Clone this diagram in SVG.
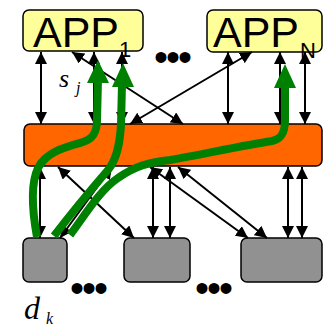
<svg xmlns="http://www.w3.org/2000/svg" width="323" height="326" viewBox="0 0 323 326">
<style>
.app{fill:#FFFF99;stroke:#000;stroke-width:1.5}
.bus{fill:#FF6600;stroke:#000;stroke-width:1.5}
.dev{fill:#919191;stroke:#000;stroke-width:1.5}
.big{font-family:"Liberation Sans",Arial,sans-serif;font-size:43px;fill:#000}
.sub{font-family:"Liberation Sans",Arial,sans-serif;font-size:22px;fill:#000}
.dots{font-family:"Liberation Sans",Arial,sans-serif;font-size:40px;letter-spacing:-2px;fill:#000}
.it{font-family:"Liberation Serif","Times New Roman",serif;font-style:italic;fill:#000}
.ar{stroke:#000;stroke-width:2;fill:none;marker-start:url(#ah);marker-end:url(#ah)}
.gp{stroke:#008000;stroke-width:8;fill:none;stroke-linejoin:round}
.gh{fill:#008000}
</style>
<defs>
<marker id="ah" viewBox="0 0 10 10" refX="10" refY="5" markerWidth="12" markerHeight="12" markerUnits="userSpaceOnUse" orient="auto-start-reverse">
<path d="M0,0 L10,5 L0,10 z" fill="#000"/>
</marker>
</defs>
<g id="app1">
<rect class="app" x="23" y="10" width="120" height="41" rx="6"/>
<text class="big" x="33" y="47">APP</text>
<text class="sub" x="119" y="57">1</text>
</g>
<g id="appN">
<rect class="app" x="207" y="10" width="115" height="42" rx="6"/>
<text class="big" x="213" y="47">APP</text>
<text class="sub" x="300" y="58">N</text>
</g>
<text id="dots-top" class="dots" x="154" y="71">•••</text>
<g id="bus">
<rect class="bus" x="24" y="124" width="298" height="42" rx="6"/>
</g>
<g id="dev1"><rect class="dev" x="23" y="238" width="44" height="44" rx="6"/></g>
<g id="dev2"><rect class="dev" x="124" y="238" width="66" height="44" rx="6"/></g>
<g id="dev3"><rect class="dev" x="241" y="238" width="81" height="44" rx="6"/></g>
<text id="dots-b1" class="dots" x="70" y="302">•••</text>
<text id="dots-b2" class="dots" x="195" y="302">•••</text>
<text id="sj" class="it" x="59" y="87" font-size="26">s<tspan x="76" y="93" font-size="16">j</tspan></text>
<text id="dk" class="it" x="24" y="319" font-size="32">d<tspan x="46" y="324" font-size="16">k</tspan></text>
<g id="connectors">
<line class="ar" x1="41" y1="52" x2="41" y2="124"/>
<line class="ar" x1="72" y1="52" x2="183" y2="124"/>
<line class="ar" x1="94" y1="52" x2="94" y2="124"/>
<line class="ar" x1="122" y1="52" x2="122" y2="124"/>
<line class="ar" x1="252" y1="52" x2="130" y2="124"/>
<line class="ar" x1="228" y1="52" x2="228" y2="124"/>
<line class="ar" x1="280" y1="52" x2="280" y2="124"/>
<line class="ar" x1="305" y1="52" x2="305" y2="124"/>
<line class="ar" x1="40" y1="167" x2="40" y2="238"/>
<line class="ar" x1="58" y1="167" x2="134" y2="238"/>
<line class="ar" x1="112" y1="167" x2="60" y2="238"/>
<line class="ar" x1="153" y1="167" x2="153" y2="238"/>
<line class="ar" x1="170" y1="167" x2="170" y2="238"/>
<line class="ar" x1="150" y1="167" x2="248" y2="238"/>
<line class="ar" x1="178" y1="167" x2="267" y2="238"/>
<line class="ar" x1="288" y1="167" x2="288" y2="238"/>
<line class="ar" x1="302" y1="167" x2="302" y2="238"/>
</g>
<g id="flows">
<path class="gp" d="M37,237 C33,215 30,185 38,168 C46,152 65,147 83,142 C93,139 97,132 97,120 L98,80"/>
<polygon class="gh" points="98,60 87,83 109,83"/>
<path class="gp" d="M54,236 C70,215 95,185 108,170 C118,158 120,140 121,125 L122,84"/>
<polygon class="gh" points="123,63 112,87 134,87"/>
<path class="gp" d="M70,235 C85,215 100,190 118,178 C135,166 150,162 170,160 C200,155 240,146 272,141 C282,139 285,132 285,120 L285,86"/>
<polygon class="gh" points="285,64 274,88 296,88"/>
</g>
</svg>
